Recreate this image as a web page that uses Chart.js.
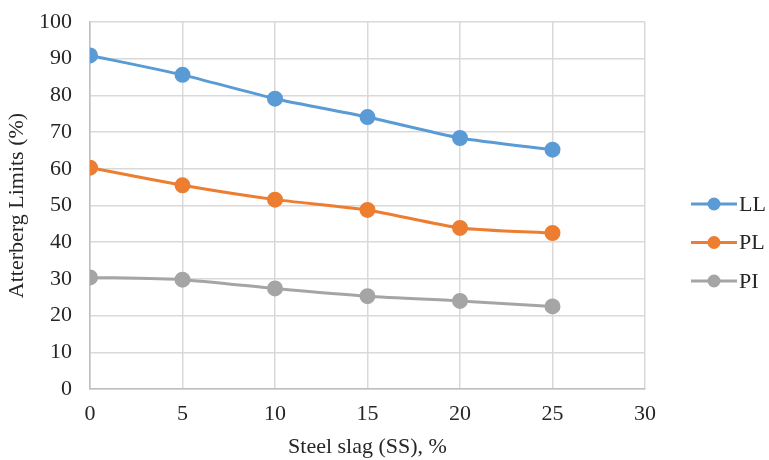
<html lang="en">
<head>
  <meta charset="UTF-8" />
  <title>Atterberg Limits vs Steel slag</title>
  <script src="https://cdn.jsdelivr.net/npm/chart.js"></script>
  <style>
    body { margin: 0; padding: 0; background: #fff; }
    .wrap { width: 769px; height: 460px; }
  </style>
</head>
<body>
  <div class="wrap">
    <canvas id="chart" width="769" height="460"></canvas>
  </div>

  <script>
    // data
    const slag = [0, 5, 10, 15, 20, 25];
    const llValues = [90.9, 85.6, 79.1, 74.1, 68.4, 65.2];
    const plValues = [60.3, 55.5, 51.6, 48.8, 43.9, 42.5];
    const piValues = [30.4, 29.8, 27.4, 25.3, 24.0, 22.5];
    const seriesNames = ['LL', 'PL', 'PI'];
    const seriesColors = ['#5b9bd5', '#ed7d31', '#a5a5a5'];

    const font = "'Liberation Serif', 'Times New Roman', serif";
    const textColor = '#262626';

    function toPoints(vals) {
      return slag.map((x, i) => ({ x: x, y: vals[i] }));
    }

    // legend drawn by hand: line with dot + label, right of the plot
    const sideLegend = {
      id: 'sideLegend',
      afterDraw(chart) {
        const ctx = chart.ctx;
        const left = chart.chartArea.right + 46;
        const top = 204;
        const gap = 38.5;
        ctx.save();
        chart.data.datasets.forEach((ds, i) => {
          const y = top + i * gap;
          ctx.strokeStyle = ds.borderColor;
          ctx.lineWidth = 3;
          ctx.beginPath();
          ctx.moveTo(left, y);
          ctx.lineTo(left + 46, y);
          ctx.stroke();
          ctx.fillStyle = ds.borderColor;
          ctx.beginPath();
          ctx.arc(left + 23, y, 6.5, 0, Math.PI * 2);
          ctx.fill();
          ctx.fillStyle = textColor;
          ctx.font = "22px " + font;
          ctx.textBaseline = 'middle';
          ctx.fillText(ds.label, left + 48, y + 1);
        });
        ctx.restore();
      }
    };

    const allValues = [llValues, plValues, piValues];

    new Chart(document.getElementById('chart'), {
      type: 'line',
      data: {
        datasets: allValues.map((vals, i) => ({
          label: seriesNames[i],
          data: toPoints(vals),
          borderColor: seriesColors[i],
          backgroundColor: seriesColors[i],
          borderWidth: 3,
          pointRadius: 6.5,
          pointHoverRadius: 6.5,
          tension: 0.2,
          fill: false
        }))
      },
      options: {
        responsive: false,
        animation: false,
        layout: { padding: { top: 22, right: 124, left: 4, bottom: 0 } },
        plugins: {
          legend: { display: false },
          tooltip: { enabled: false }
        },
        scales: {
          x: {
            type: 'linear',
            min: 0,
            max: 30,
            afterFit(scale) { scale.height = 71; },
            ticks: { stepSize: 5, color: textColor, font: { family: font, size: 22 }, padding: 12 },
            grid: { color: '#d9d9d9', lineWidth: 1.5, drawTicks: false },
            border: { color: '#bfbfbf', width: 1.5 },
            title: { display: true, text: 'Steel slag (SS), %', color: textColor, font: { family: font, size: 22 }, padding: { top: 0, bottom: 0 } }
          },
          y: {
            min: 0,
            max: 100,
            afterFit(scale) {
              scale.width = 86;
              scale.paddingTop = 0;
              scale.paddingBottom = 0;
            },
            ticks: { stepSize: 10, color: textColor, font: { family: font, size: 22 }, padding: 18 },
            grid: { color: '#d9d9d9', lineWidth: 1.5, drawTicks: false },
            border: { color: '#bfbfbf', width: 1.5 },
            title: { display: true, text: 'Atterberg Limits (%)', color: textColor, font: { family: font, size: 22 }, padding: { top: 0, bottom: 4 } }
          }
        }
      },
      plugins: [sideLegend]
    });
  </script>
</body>
</html>
